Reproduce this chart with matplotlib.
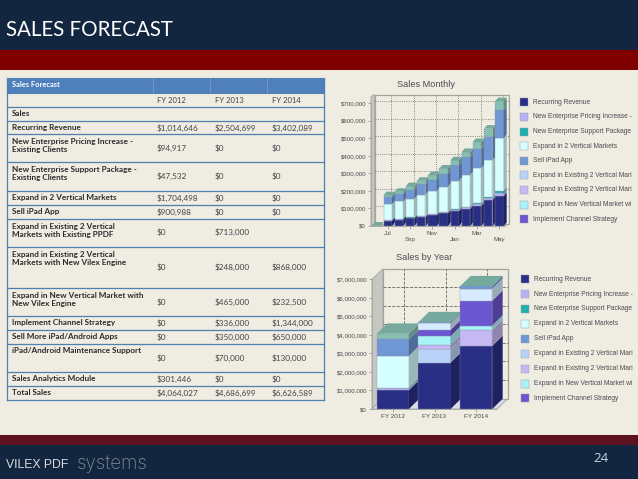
import matplotlib
matplotlib.use('Agg')
import matplotlib.pyplot as plt
from matplotlib.patches import Polygon, Rectangle

W, H = 638, 479

# Table
row_labels = ['', 'Sales', 'Recurring Revenue',
              'New Enterprise Pricing Increase -\nExisting Clients',
              'New Enterprise Support Package -\nExisting Clients',
              'Expand in 2 Vertical Markets', 'Sell iPad App',
              'Expand in Existing 2 Vertical\nMarkets with Existing PPDF',
              'Expand in Existing 2 Vertical\nMarkets with New Vilex Engine',
              'Expand in New Vertical Market with\nNew Vilex Engine',
              'Implement Channel Strategy', 'Sell More iPad/Android Apps',
              'iPad/Android Maintenance Support', 'Sales Analytics Module', 'Total Sales']
fy2012 = ['FY 2012', '', '$1,014,646', '$94,917', '$47,532', '$1,704,498', '$900,988', '$0',
          '$0', '$0', '$0', '$0', '$0', '$301,446', '$4,064,027']
fy2013 = ['FY 2013', '', '$2,504,699', '$0', '$0', '$0', '$0', '$713,000',
          '$248,000', '$465,000', '$336,000', '$350,000', '$70,000', '$0', '$4,686,699']
fy2014 = ['FY 2014', '', '$3,402,089', '$0', '$0', '$0', '$0', '',
          '$868,000', '$232,500', '$1,344,000', '$650,000', '$130,000', '$0', '$6,626,589']
row_edges = [92.7, 106.7, 120.7, 134.3, 162.3, 190.7, 204.7, 218.7, 246.7, 288.3,
             316.3, 330.3, 344.3, 372.3, 386.3, 400.3]

# Legends
legend_labels = ['Recurring Revenue', 'New Enterprise Pricing Increase -',
                 'New Enterprise Support Package', 'Expand in 2 Vertical Markets', 'Sell iPad App',
                 'Expand in Existing 2 Vertical Mari', 'Expand in Existing 2 Vertical Mari',
                 'Expand in New Vertical Market wi', 'Implement Channel Strategy']
legend_colors = ['#2a2f86', '#b4b4f2', '#1fb0ac', '#d6ffff', '#6f97d4',
                 '#b9d3f8', '#c6b9f3', '#a9f3f8', '#6a56cf']

# Sales by year, bottom to top
years = ['FY 2012', 'FY 2013', 'FY 2014']
recurring = [1014646, 2504699, 3402089]
pricing = [94917, 0, 0]
support = [47532, 0, 0]
expand2 = [1704498, 0, 0]
ipad_app = [900988, 0, 0]
existing_pdf = [0, 713000, 0]
existing_engine = [0, 248000, 868000]
new_market = [0, 465000, 232500]
channel = [0, 336000, 1344000]
more_apps = [0, 350000, 650000]
maintenance = [0, 70000, 130000]
analytics = [301446, 0, 0]
year_series = [recurring, pricing, support, expand2, ipad_app, existing_pdf, existing_engine,
               new_market, channel, more_apps, maintenance, analytics]
year_colors = legend_colors + ['#d6ebff', '#6f97d4', '#86c0b2']

# Sales by month
months = ['Jun', 'Jul', 'Aug', 'Sep', 'Oct', 'Nov', 'Dec', 'Jan', 'Feb', 'Mar', 'Apr', 'May']
m_recurring = [0, 30000, 37000, 43000, 50000, 60000, 72000, 84000, 98000, 115000, 148000, 170000]
m_pricing = [0, 3000, 4000, 5000, 5000, 6000, 7000, 8000, 9000, 10000, 11000, 20000]
m_support = [0, 1000, 1000, 1000, 2000, 2000, 2000, 3000, 3000, 4000, 4000, 9000]
m_expand2 = [0, 91000, 98000, 106000, 121000, 132000, 144000, 163000, 182000, 201000, 212000, 303000]
m_ipad = [0, 38000, 42000, 53000, 59000, 65000, 74000, 89000, 102000, 111000, 133000, 157000]
m_analytics = [3000, 13000, 13000, 19000, 21000, 25000, 29000, 28000, 28000, 38000, 47000, 53000]
month_series = [m_recurring, m_pricing, m_support, m_expand2, m_ipad, m_analytics]
month_colors = ['#2a2f86', '#b4b4f2', '#1fb0ac', '#d6ffff', '#6f97d4', '#86c0b2']

monthly_ticks = [0, 100000, 200000, 300000, 400000, 500000, 600000, 700000]
yearly_ticks = [0, 1000000, 2000000, 3000000, 4000000, 5000000, 6000000, 7000000]

BG = '#efece1'
NAVY = '#12263f'
TEXT_GREY = '#4c4c52'
LINE = '#4f7fb4'


def shade(color, k):
    r, g, b = matplotlib.colors.to_rgb(color)
    return (r * k, g * k, b * k)


def bar_chart(box, labels, series, colors, ticks, ymax, wall_top, wall_d, bar_d, width, grid_style,
              grid_x):
    left, top, right, bottom = box
    ax = fig.add_axes([left / W, 1 - bottom / H, (right - left) / W, (bottom - top) / H])
    n = len(labels)
    ax.set_xlim(-0.5, n - 0.5)
    ax.set_ylim(0, ymax)
    ax.patch.set_alpha(0)
    per_x = (right - left) / n
    per_y = (bottom - top) / ymax
    dx, dy = wall_d[0] / per_x, wall_d[1] / per_y
    bdx, bdy = bar_d[0] / per_x, bar_d[1] / per_y

    # walls and floor
    x0, x1 = -0.5, n - 0.5
    ax.add_patch(Polygon([(x0, 0), (x0 + dx, dy), (x0 + dx, wall_top + dy), (x0, wall_top)],
                         fc='#c6c6c2', ec='#a5a59f', lw=0.6, clip_on=False, zorder=1))
    ax.add_patch(Polygon([(x0, 0), (x1, 0), (x1 + dx, dy), (x0 + dx, dy)],
                         fc='#dcdce8', ec='#a5a59f', lw=0.6, clip_on=False, zorder=1))
    ax.add_patch(Rectangle((x0 + dx, dy), x1 - x0, wall_top, fc=BG, ec='#a5a59f', lw=0.9,
                           clip_on=False, zorder=1))
    for t in ticks[1:]:
        if t + dy < wall_top + dy:
            ax.plot([x0 + dx, x1 + dx], [t + dy, t + dy], color='#66665f', lw=0.6,
                    ls=grid_style, clip_on=False, zorder=1.5)
    for g in grid_x:
        ax.plot([g + dx, g + dx], [dy, wall_top + dy], color='#66665f', lw=0.6,
                ls=grid_style, clip_on=False, zorder=1.5)

    # stacked bars with side and top faces
    z = 2
    for i in range(n):
        base = 0
        xl, xr = i - width / 2, i + width / 2
        for values, color in zip(series, colors):
            v = values[i]
            if v > 0:
                ax.bar(i, v, width, bottom=base, color=color, edgecolor='#8f93a8', linewidth=0.25,
                       zorder=z, clip_on=False)
                ax.add_patch(Polygon([(xr, base), (xr + bdx, base + bdy),
                                      (xr + bdx, base + v + bdy), (xr, base + v)],
                                     fc=shade(color, 0.72), ec='none', clip_on=False, zorder=z))
            base += v
            z += 0.01
        ax.add_patch(Polygon([(xl, base), (xr, base), (xr + bdx, base + bdy), (xl + bdx, base + bdy)],
                             fc=shade(colors[-1], 0.88), ec='none', clip_on=False, zorder=z))
        z += 0.01

    ax.set_yticks(ticks)
    ax.set_yticklabels(['$' + format(t, ',') for t in ticks], fontsize=4.4, color=TEXT_GREY,
                       fontfamily='Liberation Sans')
    ax.tick_params(axis='both', length=2, width=0.5, color='#8a8a84', pad=1.5)
    for s in ['top', 'right']:
        ax.spines[s].set_visible(False)
    for s in ['left', 'bottom']:
        ax.spines[s].set_color('#a5a59f')
        ax.spines[s].set_linewidth(0.6)
        ax.spines[s].set_zorder(1.6)
    return ax


def legend(x_box, x_text, y0, step, box_w):
    for i, (label, color) in enumerate(zip(legend_labels, legend_colors)):
        y = y0 + i * step
        bg.add_patch(Rectangle((x_box, y - 4), box_w, 8, fc=color, ec='#9a9aa8', lw=0.3))
        bg.text(x_text, y, label, fontsize=4.75, color=TEXT_GREY, va='center', ha='left',
                fontfamily='Liberation Sans')


fig = plt.figure(figsize=(W / 100, H / 100), dpi=100, facecolor=BG)
bg = fig.add_axes([0, 0, 1, 1])
bg.set_xlim(0, W)
bg.set_ylim(H, 0)
bg.axis('off')

# slide bands
bg.add_patch(Rectangle((0, 0), W, 50, fc=NAVY, ec='none'))
bg.add_patch(Rectangle((0, 50), W, 20, fc='#800000', ec='none'))
bg.add_patch(Rectangle((0, 435), W, 9.5, fc='#5e1220', ec='none'))
bg.add_patch(Rectangle((0, 444.5), W, 34.5, fc=NAVY, ec='none'))
bg.text(6.5, 30, 'SALES FORECAST', color='white', fontsize=14.8, va='center', ha='left',
        fontfamily='Lato')
bg.text(6, 465, 'VILEX PDF', color='#d8dbe0', fontsize=8.8, va='center', ha='left',
        fontfamily='Liberation Sans')
bg.text(77, 464, 'systems', color='#7f8a98', fontsize=13.5, va='center', ha='left',
        fontfamily='Inter', fontweight='light')
bg.text(601, 458, '24', color='#c9d6e6', fontsize=9.5, va='center', ha='center',
        fontfamily='Open Sans')

# table
tx0, tx1 = 7.3, 324.3
col_edges = [152.5, 209.5, 266.5]
col_text = [157, 215, 272]
bg.add_patch(Rectangle((tx0, 78.3), tx1 - tx0, 14.4, fc='#4f80bb', ec=LINE, lw=0.8))
for c in col_edges:
    bg.plot([c, c], [78.3, 92.7], color='#7ea3d0', lw=0.5)
bg.text(12, 84.6, 'Sales Forecast', color='white', fontsize=5.4, fontweight='bold', va='center',
        fontfamily='Lato')
bg.plot([tx0, tx0], [78.3, row_edges[-1]], color=LINE, lw=0.9)
bg.plot([tx1, tx1], [78.3, row_edges[-1]], color=LINE, lw=0.9)
for y in row_edges[1:]:
    bg.plot([tx0, tx1], [y, y], color=LINE, lw=0.9)
for i, label in enumerate(row_labels):
    y_top, y_bot = row_edges[i], row_edges[i + 1]
    y_mid = (y_top + y_bot) / 2
    n_lines = label.count('\n') + 1
    y_lab = y_top + 6.5 + (n_lines - 1) * 5
    bg.text(12, y_lab, label, fontsize=5.85, fontweight='bold', color='#2b2b2b', va='center',
            linespacing=1.2, fontfamily='Lato')
    y_val = y_top + 7.3 if n_lines == 1 and y_bot - y_top < 20 else y_mid
    size = 5.5 if i == 0 else 5.9
    for col, x in zip([fy2012, fy2013, fy2014], col_text):
        bg.text(x, y_val, col[i], fontsize=size, color='#44444a', va='center', fontfamily='Lato')

# charts
ax_m = bar_chart((371, 103.2, 505, 226), months, month_series, month_colors, monthly_ticks,
                 700000, 738000, (3.7, 2), (3, 3.5), 0.76, ':', range(1, 12, 2))
ax_m.set_xticks(range(1, 12, 2))
ax_m.set_xticklabels([('\n' if i % 2 else '') + m for i, m in enumerate(months[1::2])],
                     fontsize=4.4, color=TEXT_GREY, fontfamily='Liberation Sans', linespacing=1.25)
ax_y = bar_chart((372, 279.3, 497, 409), years, year_series, year_colors, yearly_ticks,
                 7000000, 7000000, (11, 10.5), (10.5, 10.3), 0.77, '--', range(3))
ax_y.set_xticks(range(3))
ax_y.set_xticklabels(years, fontsize=4.6, color=TEXT_GREY, fontfamily='Liberation Sans')

bg.text(425.7, 84, 'Sales Monthly', fontsize=6.6, color=TEXT_GREY, ha='center',
        va='center', fontfamily='Liberation Sans')
bg.text(424, 257, 'Sales by Year', fontsize=6.6, color=TEXT_GREY, ha='center',
        va='center', fontfamily='Liberation Sans')
legend(519.5, 532.7, 102.3, 14.6, 8.5)
legend(521, 534, 279.2, 14.9, 7.5)

fig.savefig('out.png', dpi=100, facecolor=BG)
